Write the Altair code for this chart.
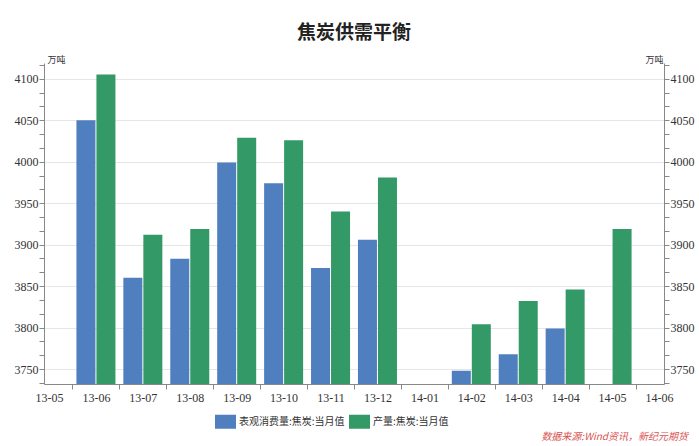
import json
import altair as alt
import pandas as pd

# ---- data ----
tick_labels = ["13-05", "13-06", "13-07", "13-08", "13-09", "13-10", "13-11",
               "13-12", "14-01", "14-02", "14-03", "14-04", "14-05", "14-06"]
months = ["13-06", "13-07", "13-08", "13-09", "13-10", "13-11", "13-12",
          "14-01", "14-02", "14-03", "14-04", "14-05"]
consumption = [4050, 3860, 3883, 3999, 3974, 3872, 3906, None, 3748, 3768, 3799, None]
production = [4105, 3912, 3919, 4029, 4026, 3940, 3981, None, 3804, 3832, 3846, 3919]
series_names = ["表观消费量:焦炭:当月值", "产量:焦炭:当月值"]
colors = ["#4f7fbf", "#339966"]

rows = []
for m, c, p in zip(months, consumption, production):
    idx = tick_labels.index(m)
    if c is not None:
        rows.append({"idx": idx, "month": m, "series": series_names[0], "value": c})
    if p is not None:
        rows.append({"idx": idx, "month": m, "series": series_names[1], "value": p})
df = pd.DataFrame(rows)

ydom = [3732, 4119]
yticks = [round(3750 + k * 50 / 3, 3) for k in range(-1, 23)]
major = "abs(datum.value - round(datum.value/50)*50) < 0.5"
xticks = [k * 0.5 for k in range(27)]
xint = "abs(datum.value - round(datum.value)) < 0.01"

cjk = "Noto Sans CJK SC"
num_font = "Liberation Serif"

color = alt.Color(
    "series:N",
    scale=alt.Scale(domain=series_names, range=colors),
    legend=alt.Legend(
        title=None, orient="none", legendX=171, legendY=348, direction="horizontal",
        symbolType="M-1,-0.667H1V0.667H-1Z", symbolSize=441, symbolStrokeWidth=0,
        labelFont=cjk, labelFontSize=10, labelColor="#333", columnPadding=4,
        labelOffset=3,
    ),
)

x = alt.X(
    "idx:Q",
    scale=alt.Scale(domain=[0, 13], nice=False, zero=False),
    axis=alt.Axis(
        title=None, values=xticks, grid=False,
        labelExpr=f"{xint} ? {json.dumps(tick_labels)}[round(datum.value)] : ''",
        labelFont=num_font, labelFontSize=12, labelColor="#333",
        domainColor="#888", tickColor="#888", tickSize=5, labelPadding=3,
        tickOpacity={"condition": {"test": xint, "value": 0}, "value": 1},
        labelFlush=False, labelOverlap=False,
    ),
)

def yaxis(orient):
    return alt.Axis(
        orient=orient, title="万吨", titleAngle=0, titleFont=cjk, titleFontSize=9,
        titleFontWeight="normal", titleColor="#333",
        titleAlign="left" if orient == "left" else "right",
        titleX=3 if orient == "left" else -1, titleY=1, titleBaseline="bottom",
        values=yticks,
        labelExpr=f"{major} ? format(datum.value, 'd') : ''",
        labelFont=num_font, labelFontSize=12, labelColor="#333",
        domainColor="#888", tickColor="#888", tickSize=5, labelPadding=1,
        grid=(orient == "left"), gridColor="#e6e6e6",
        gridOpacity={"condition": {"test": major, "value": 1}, "value": 0},
    )

base = alt.Chart(df)

blue = base.transform_filter(alt.datum.series == series_names[0]).mark_bar(
    width=19, xOffset=-10, clip=True
).encode(
    x=x,
    y=alt.Y("value:Q", scale=alt.Scale(domain=ydom, zero=False, nice=False), axis=yaxis("left")),
    color=color,
)

green = base.transform_filter(alt.datum.series == series_names[1]).mark_bar(
    width=19, xOffset=10, clip=True
).encode(
    x=x,
    y=alt.Y("value:Q", scale=alt.Scale(domain=ydom, zero=False, nice=False), axis=yaxis("right")),
    color=color,
)

source = alt.Chart(pd.DataFrame({"t": ["数据来源:Wind资讯，新纪元期货"]})).mark_text(
    align="right", baseline="bottom", font=cjk, fontSize=10, fontStyle="italic",
    color="#d9534f",
).encode(text="t:N", x=alt.value(644), y=alt.value(379))

chart = alt.layer(blue, green, source).resolve_scale(y="independent").properties(
    width=620, height=321,
    autosize=alt.AutoSizeParams(type="none"),
    padding={"left": 44, "top": 63, "right": 35, "bottom": 62},
    background="white",
    title=alt.TitleParams(
        "焦炭供需平衡", font=cjk, fontSize=19, fontWeight="bold", color="#222",
        anchor="middle", offset=12,
    ),
).configure_view(stroke=None)

chart.save("out.html", embed_options={"renderer": "svg", "actions": False})
